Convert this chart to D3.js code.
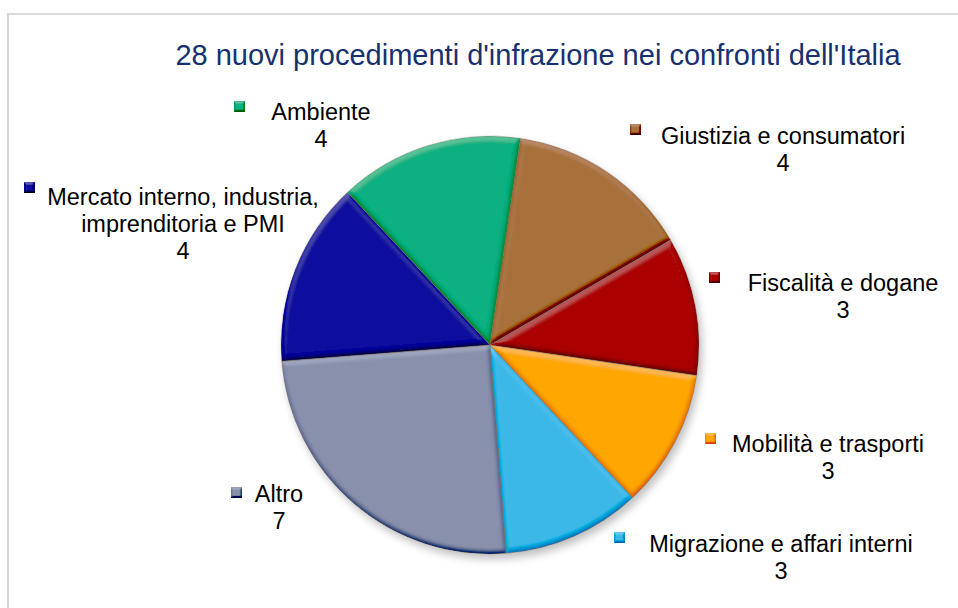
<!DOCTYPE html>
<html>
<head>
<meta charset="utf-8">
<script src="https://cdn.jsdelivr.net/npm/d3@7"></script>
<style>
  html, body { margin: 0; padding: 0; background: #fff; }
  svg { display: block; }
  text { font-family: "Liberation Sans", Arial, sans-serif; }
</style>
</head>
<body>
<svg id="chart" width="958" height="608"></svg>
<script>
// ---- data ----
const title = "28 nuovi procedimenti d'infrazione nei confronti dell'Italia";
const categories = [
  "Giustizia e consumatori",
  "Fiscalità e dogane",
  "Mobilità e trasporti",
  "Migrazione e affari interni",
  "Altro",
  "Mercato interno, industria, imprenditoria e PMI",
  "Ambiente"
];
const values = [4, 3, 3, 3, 7, 4, 4];
const colors = ["#a8703c", "#aa0000", "#ffa704", "#3cb8e8", "#8890ac", "#0c0c9e", "#10b080"];

// ---- layout (label placement) ----
const labelLines = [
  ["Giustizia e consumatori"],
  ["Fiscalità e dogane"],
  ["Mobilità e trasporti"],
  ["Migrazione e affari interni"],
  ["Altro"],
  ["Mercato interno, industria,", "imprenditoria e PMI"],
  ["Ambiente"]
];
const labelCx = [783, 843, 828, 781, 279, 183, 321];
const labelY  = [144, 291, 452, 552, 502, 205, 120];
const markerX = [630, 709, 705, 614, 231, 24, 234];
const markerY = [124, 272, 433, 532, 487, 182, 101];

const W = 958, H = 608;
const cx = 490, cy = 345, R = 209;
const startDeg = 8.4;

const svg = d3.select("#chart");
const defs = svg.append("defs");

function makeBevel(id, blur, scale, k) {
  const f = defs.append("filter").attr("id", id)
    .attr("x", "-20%").attr("y", "-20%").attr("width", "140%").attr("height", "140%");
  f.append("feGaussianBlur").attr("in", "SourceAlpha").attr("stdDeviation", blur).attr("result", "blur");
  const dl = f.append("feDiffuseLighting").attr("in", "blur").attr("surfaceScale", scale)
    .attr("diffuseConstant", 1).attr("lighting-color", "#ffffff").attr("result", "diff");
  dl.append("feDistantLight").attr("azimuth", 255).attr("elevation", 50);
  f.append("feComposite").attr("in", "SourceGraphic").attr("in2", "diff")
    .attr("operator", "arithmetic").attr("k1", 0).attr("k2", 1).attr("k3", k)
    .attr("k4", -k * Math.sin(50 * Math.PI / 180)).attr("result", "lit");
  f.append("feComposite").attr("in", "lit").attr("in2", "SourceAlpha").attr("operator", "in");
}
makeBevel("bevel", 2.5, 3.5, 0.4);
makeBevel("bevelS", 1.2, 3, 0.45);

// drop shadow for pie
const sh = defs.append("filter").attr("id", "shadow")
  .attr("x", "-10%").attr("y", "-10%").attr("width", "130%").attr("height", "130%");
sh.append("feGaussianBlur").attr("stdDeviation", 4);

// frame
svg.append("rect").attr("x", 8).attr("y", 14).attr("width", W).attr("height", H)
  .attr("fill", "#fff").attr("stroke", "#d9d9d9").attr("stroke-width", 2);

// title
svg.append("text").attr("x", 538).attr("y", 65).attr("text-anchor", "middle")
  .attr("font-size", 29).attr("fill", "#17306f").text(title);

// pie
const pie = d3.pie().sort(null).value(d => d)
  .startAngle(startDeg * Math.PI / 180)
  .endAngle(startDeg * Math.PI / 180 + 2 * Math.PI);
const arcs = pie(values);
const arc = d3.arc().innerRadius(0).outerRadius(R);

const g = svg.append("g").attr("transform", `translate(${cx},${cy})`);
g.append("circle").attr("cx", 3).attr("cy", 5).attr("r", R)
  .attr("fill", "#000").attr("opacity", 0.25).attr("filter", "url(#shadow)");

g.selectAll("path.slice").data(arcs).enter().append("path")
  .attr("class", "slice")
  .attr("d", arc)
  .attr("fill", (d, i) => colors[i])
  .attr("filter", "url(#bevel)");
g.selectAll("path.edge").data(arcs).enter().append("path")
  .attr("class", "edge")
  .attr("d", arc)
  .attr("fill", "none")
  .attr("stroke", "#7a6a5a").attr("stroke-opacity", 0.45).attr("stroke-width", 0.7);

// labels
const lg = svg.append("g");
arcs.forEach((d, i) => {
  lg.append("rect").attr("x", markerX[i]).attr("y", markerY[i]).attr("width", 11).attr("height", 11)
    .attr("fill", colors[i]).attr("filter", "url(#bevelS)");
  const t = lg.append("text").attr("text-anchor", "middle").attr("font-size", 23.5).attr("fill", "#000");
  const lines = labelLines[i].concat([String(values[i])]);
  lines.forEach((ln, j) => {
    t.append("tspan").attr("x", labelCx[i]).attr("y", labelY[i] + j * 27).text(ln);
  });
});
</script>
</body>
</html>
